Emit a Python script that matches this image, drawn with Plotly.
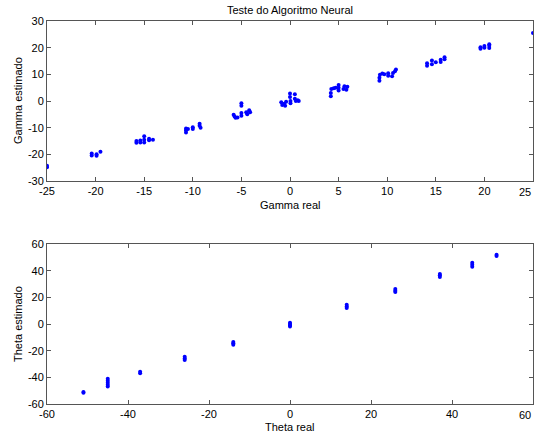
import plotly.graph_objects as go

# Top: Gamma
gamma_real = [-25, -25,
              -20.4, -20.4, -19.9, -19.9, -19.5,
              -15.8, -15.8, -15.4, -15.4, -15.0, -15.0, -15.0, -14.5, -14.5, -14.1,
              -10.7, -10.7, -10.7, -10.5, -10.0, -10.0, -9.3, -9.3, -9.2,
              -5.8, -5.7, -5.6, -5.4, -5.0, -5.0, -5.0, -5.0, -4.5, -4.4, -4.2, -4.1,
              -0.9, -0.8, -0.6, -0.5, -0.4, 0.0, 0.0, 0.05, 0.05, 0.5, 0.5, 0.6, 0.8, 0.9,
              4.2, 4.2, 4.25, 4.5, 4.7, 5.0, 5.0, 5.0, 5.5, 5.6, 5.8, 5.9,
              9.2, 9.2, 9.25, 9.5, 9.7, 10.1, 10.1, 10.5, 10.6, 10.8, 10.9,
              14.1, 14.1, 14.6, 14.6, 15.0, 15.5, 15.5, 15.9, 15.9,
              19.6, 19.6, 20.0, 20.0, 20.5, 20.5, 20.5,
              25]
gamma_est = [-24.3, -24.8,
             -19.7, -20.4, -20.0, -20.5, -19.0,
             -15.0, -15.7, -14.8, -15.6, -13.2, -14.5, -15.6, -14.2, -14.7, -14.5,
             -10.3, -11.0, -11.8, -10.5, -9.8, -10.5, -8.5, -9.3, -10.0,
             -5.2, -5.8, -6.3, -6.2, -0.8, -1.8, -4.5, -5.5, -4.2, -5.0, -3.5, -4.2,
             -0.5, -1.5, -1.0, -1.8, -0.3, 2.8, 1.5, 0.0, -0.8, 2.5, 0.8, 0.0, 0.3, 0.0,
             1.8, 3.0, 4.5, 4.8, 5.0, 3.9, 5.0, 6.0, 4.5, 5.5, 4.2, 5.3,
             7.6, 8.7, 9.8, 10.3, 10.0, 9.5, 10.4, 9.3, 10.5, 11.2, 11.8,
             13.2, 14.2, 13.8, 15.2, 14.5, 14.6, 15.5, 15.7, 16.4,
             19.6, 20.2, 20.0, 20.6, 19.9, 20.7, 21.3,
             25.5]

# Bottom: Theta
theta_real = [-51, -51,
              -45, -45, -45, -45, -45,
              -37, -37,
              -26, -26, -26,
              -14, -14, -14,
              0, 0, 0, 0,
              14, 14, 14,
              26, 26, 26,
              37, 37, 37,
              45, 45, 45,
              51, 51]
theta_est = [-51.5, -51.0,
             -41, -42.5, -44, -45.5, -46.8,
             -35.8, -37,
             -24.5, -25.8, -27,
             -13.5, -14.5, -15.5,
             1, 0, -1, -1.8,
             14.5, 13.2, 12,
             26.2, 25, 24,
             37.5, 36.5, 35.2,
             46, 44.5, 43,
             52, 51]

gamma_ticks = [-25, -20, -15, -10, -5, 0, 5, 10, 15, 20, 25]
gamma_yticks = [-30, -20, -10, 0, 10, 20, 30]
theta_ticks = [-60, -40, -20, 0, 20, 40, 60]

W, H = 534, 438
FONT = "Liberation Sans, Arial, sans-serif"
AX = "#555555"


def labels(vals):
    return [str(v) for v in vals]  # plain hyphen-minus, like the original


fig = go.Figure()
mk = dict(color="#0000ff", size=4, symbol="circle", line=dict(width=0))
fig.add_trace(go.Scatter(x=gamma_real, y=gamma_est, mode="markers", marker=mk,
                         xaxis="x", yaxis="y", showlegend=False))
fig.add_trace(go.Scatter(x=theta_real, y=theta_est, mode="markers", marker=mk,
                         xaxis="x2", yaxis="y2", showlegend=False))

x0, x1 = 47 / W, 533 / W
top = [(H - 181) / H, (H - 21) / H]
bot = [(H - 404) / H, (H - 244) / H]

common = dict(showgrid=False, zeroline=False, showline=True, linecolor=AX, linewidth=1,
              mirror="ticks", ticks="inside", ticklen=4, tickcolor=AX, tickmode="array",
              tickfont=dict(family=FONT, size=11, color="black"), automargin=False)

ann = [
    dict(text="Teste do Algoritmo Neural", x=290 / W, y=1 - 10 / H, xref="paper", yref="paper",
         showarrow=False, xanchor="center", yanchor="middle", font=dict(size=11)),
    dict(text="Gamma real", x=290 / W, y=1 - 205 / H, xref="paper", yref="paper",
         showarrow=False, xanchor="center", yanchor="middle", font=dict(size=11)),
    dict(text="Theta real", x=290 / W, y=1 - 427 / H, xref="paper", yref="paper",
         showarrow=False, xanchor="center", yanchor="middle", font=dict(size=11)),
    dict(text="Gamma estimado", x=18 / W, y=1 - 101 / H, xref="paper", yref="paper",
         showarrow=False, xanchor="center", yanchor="middle", textangle=-90, font=dict(size=11)),
    dict(text="Theta estimado", x=18 / W, y=1 - 324 / H, xref="paper", yref="paper",
         showarrow=False, xanchor="center", yanchor="middle", textangle=-90, font=dict(size=11)),
    # right-edge tick labels (plotly hides them at the page edge); kept fully on the page
    dict(text=labels(gamma_ticks)[-1], x=1.0, y=1 - 192 / H, xref="paper", yref="paper",
         showarrow=False, xanchor="right", yanchor="middle", xshift=-1, font=dict(size=11)),
    dict(text=labels(theta_ticks)[-1], x=1.0, y=1 - 415 / H, xref="paper", yref="paper",
         showarrow=False, xanchor="right", yanchor="middle", xshift=-1, font=dict(size=11)),
]

fig.update_layout(
    width=W, height=H,
    margin=dict(l=0, r=0, t=0, b=0),
    paper_bgcolor="white", plot_bgcolor="white",
    font=dict(family=FONT, size=11, color="black"),
    xaxis=dict(domain=[x0, x1], range=[-25, 25], tickvals=gamma_ticks,
               ticktext=labels(gamma_ticks), anchor="y", **common),
    yaxis=dict(domain=top, range=[-30, 30], tickvals=gamma_yticks,
               ticktext=labels(gamma_yticks), anchor="x", **common),
    xaxis2=dict(domain=[x0, x1], range=[-60, 60], tickvals=theta_ticks,
                ticktext=labels(theta_ticks), anchor="y2", **common),
    yaxis2=dict(domain=bot, range=[-60, 60], tickvals=theta_ticks,
                ticktext=labels(theta_ticks), anchor="x2", **common),
    annotations=ann,
)

fig.write_html("out.html")
